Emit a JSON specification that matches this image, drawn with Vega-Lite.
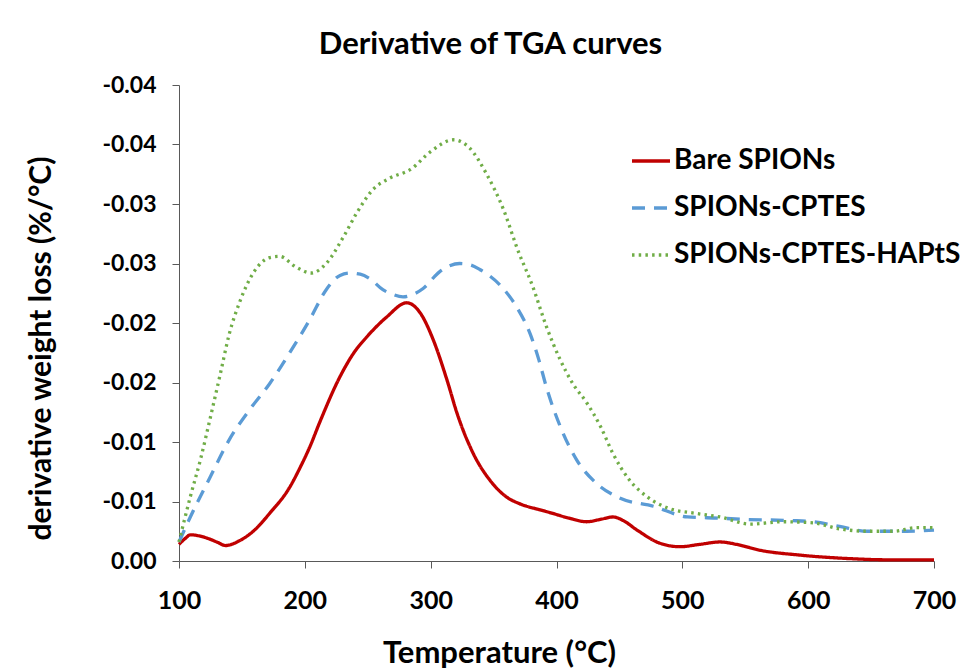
{
  "$schema": "https://vega.github.io/schema/vega-lite/v6.json",
  "width": 755,
  "height": 476,
  "autosize": {"type": "none"},
  "padding": {"left": 179, "top": 85, "right": 32, "bottom": 107},
  "background": "white",
  "config": {"view": {"stroke": null}},
  "title": {
    "text": "Derivative of TGA curves",
    "font": "Lato",
    "fontSize": 31,
    "fontWeight": "bold",
    "color": "black",
    "anchor": "middle",
    "frame": "group",
    "dx": -66,
    "baseline": "alphabetic",
    "offset": -11
  },
  "datasets": {
    "tga": [
      {"series": "Bare SPIONs", "temp": 100, "dw": -0.0014},
      {"series": "Bare SPIONs", "temp": 105, "dw": -0.0019},
      {"series": "Bare SPIONs", "temp": 109, "dw": -0.0022},
      {"series": "Bare SPIONs", "temp": 120, "dw": -0.0020},
      {"series": "Bare SPIONs", "temp": 130, "dw": -0.0016},
      {"series": "Bare SPIONs", "temp": 137, "dw": -0.0013},
      {"series": "Bare SPIONs", "temp": 148, "dw": -0.0017},
      {"series": "Bare SPIONs", "temp": 159, "dw": -0.0025},
      {"series": "Bare SPIONs", "temp": 172, "dw": -0.0040},
      {"series": "Bare SPIONs", "temp": 188, "dw": -0.0062},
      {"series": "Bare SPIONs", "temp": 196, "dw": -0.0078},
      {"series": "Bare SPIONs", "temp": 204, "dw": -0.0096},
      {"series": "Bare SPIONs", "temp": 212, "dw": -0.0117},
      {"series": "Bare SPIONs", "temp": 228, "dw": -0.0155},
      {"series": "Bare SPIONs", "temp": 239, "dw": -0.0175},
      {"series": "Bare SPIONs", "temp": 249, "dw": -0.0188},
      {"series": "Bare SPIONs", "temp": 265, "dw": -0.0205},
      {"series": "Bare SPIONs", "temp": 281, "dw": -0.0217},
      {"series": "Bare SPIONs", "temp": 292, "dw": -0.0208},
      {"series": "Bare SPIONs", "temp": 302, "dw": -0.0186},
      {"series": "Bare SPIONs", "temp": 313, "dw": -0.0152},
      {"series": "Bare SPIONs", "temp": 321, "dw": -0.0124},
      {"series": "Bare SPIONs", "temp": 334, "dw": -0.0090},
      {"series": "Bare SPIONs", "temp": 347, "dw": -0.0068},
      {"series": "Bare SPIONs", "temp": 360, "dw": -0.0054},
      {"series": "Bare SPIONs", "temp": 371, "dw": -0.0048},
      {"series": "Bare SPIONs", "temp": 387, "dw": -0.0043},
      {"series": "Bare SPIONs", "temp": 397, "dw": -0.0040},
      {"series": "Bare SPIONs", "temp": 410, "dw": -0.0036},
      {"series": "Bare SPIONs", "temp": 424, "dw": -0.0033},
      {"series": "Bare SPIONs", "temp": 435, "dw": -0.0035},
      {"series": "Bare SPIONs", "temp": 445, "dw": -0.0037},
      {"series": "Bare SPIONs", "temp": 453, "dw": -0.0034},
      {"series": "Bare SPIONs", "temp": 464, "dw": -0.0026},
      {"series": "Bare SPIONs", "temp": 482, "dw": -0.0015},
      {"series": "Bare SPIONs", "temp": 498, "dw": -0.0012},
      {"series": "Bare SPIONs", "temp": 514, "dw": -0.0014},
      {"series": "Bare SPIONs", "temp": 530, "dw": -0.0016},
      {"series": "Bare SPIONs", "temp": 543, "dw": -0.0014},
      {"series": "Bare SPIONs", "temp": 562, "dw": -0.0009},
      {"series": "Bare SPIONs", "temp": 593, "dw": -0.0005},
      {"series": "Bare SPIONs", "temp": 633, "dw": -0.0002},
      {"series": "Bare SPIONs", "temp": 663, "dw": -0.0001},
      {"series": "Bare SPIONs", "temp": 700, "dw": -0.0001},

      {"series": "SPIONs-CPTES", "temp": 100, "dw": -0.0016},
      {"series": "SPIONs-CPTES", "temp": 109, "dw": -0.0037},
      {"series": "SPIONs-CPTES", "temp": 125, "dw": -0.0071},
      {"series": "SPIONs-CPTES", "temp": 140, "dw": -0.0102},
      {"series": "SPIONs-CPTES", "temp": 156, "dw": -0.0127},
      {"series": "SPIONs-CPTES", "temp": 172, "dw": -0.0149},
      {"series": "SPIONs-CPTES", "temp": 188, "dw": -0.0175},
      {"series": "SPIONs-CPTES", "temp": 204, "dw": -0.0203},
      {"series": "SPIONs-CPTES", "temp": 217, "dw": -0.0228},
      {"series": "SPIONs-CPTES", "temp": 228, "dw": -0.0240},
      {"series": "SPIONs-CPTES", "temp": 236, "dw": -0.0242},
      {"series": "SPIONs-CPTES", "temp": 244, "dw": -0.0241},
      {"series": "SPIONs-CPTES", "temp": 252, "dw": -0.0237},
      {"series": "SPIONs-CPTES", "temp": 262, "dw": -0.0228},
      {"series": "SPIONs-CPTES", "temp": 270, "dw": -0.0224},
      {"series": "SPIONs-CPTES", "temp": 278, "dw": -0.0222},
      {"series": "SPIONs-CPTES", "temp": 286, "dw": -0.0224},
      {"series": "SPIONs-CPTES", "temp": 294, "dw": -0.0229},
      {"series": "SPIONs-CPTES", "temp": 307, "dw": -0.0243},
      {"series": "SPIONs-CPTES", "temp": 315, "dw": -0.0248},
      {"series": "SPIONs-CPTES", "temp": 323, "dw": -0.0250},
      {"series": "SPIONs-CPTES", "temp": 331, "dw": -0.0249},
      {"series": "SPIONs-CPTES", "temp": 339, "dw": -0.0245},
      {"series": "SPIONs-CPTES", "temp": 355, "dw": -0.0232},
      {"series": "SPIONs-CPTES", "temp": 368, "dw": -0.0214},
      {"series": "SPIONs-CPTES", "temp": 379, "dw": -0.0191},
      {"series": "SPIONs-CPTES", "temp": 386, "dw": -0.0169},
      {"series": "SPIONs-CPTES", "temp": 392, "dw": -0.0146},
      {"series": "SPIONs-CPTES", "temp": 403, "dw": -0.0113},
      {"series": "SPIONs-CPTES", "temp": 416, "dw": -0.0085},
      {"series": "SPIONs-CPTES", "temp": 432, "dw": -0.0065},
      {"series": "SPIONs-CPTES", "temp": 450, "dw": -0.0053},
      {"series": "SPIONs-CPTES", "temp": 477, "dw": -0.0046},
      {"series": "SPIONs-CPTES", "temp": 504, "dw": -0.0037},
      {"series": "SPIONs-CPTES", "temp": 530, "dw": -0.0036},
      {"series": "SPIONs-CPTES", "temp": 548, "dw": -0.0035},
      {"series": "SPIONs-CPTES", "temp": 586, "dw": -0.0034},
      {"series": "SPIONs-CPTES", "temp": 604, "dw": -0.0033},
      {"series": "SPIONs-CPTES", "temp": 625, "dw": -0.0029},
      {"series": "SPIONs-CPTES", "temp": 647, "dw": -0.0025},
      {"series": "SPIONs-CPTES", "temp": 663, "dw": -0.0025},
      {"series": "SPIONs-CPTES", "temp": 678, "dw": -0.0025},
      {"series": "SPIONs-CPTES", "temp": 700, "dw": -0.0026},

      {"series": "SPIONs-CPTES-HAPtS", "temp": 100, "dw": -0.0016},
      {"series": "SPIONs-CPTES-HAPtS", "temp": 109, "dw": -0.0054},
      {"series": "SPIONs-CPTES-HAPtS", "temp": 117, "dw": -0.0085},
      {"series": "SPIONs-CPTES-HAPtS", "temp": 125, "dw": -0.0121},
      {"series": "SPIONs-CPTES-HAPtS", "temp": 133, "dw": -0.0158},
      {"series": "SPIONs-CPTES-HAPtS", "temp": 140, "dw": -0.0191},
      {"series": "SPIONs-CPTES-HAPtS", "temp": 148, "dw": -0.0217},
      {"series": "SPIONs-CPTES-HAPtS", "temp": 159, "dw": -0.0242},
      {"series": "SPIONs-CPTES-HAPtS", "temp": 172, "dw": -0.0255},
      {"series": "SPIONs-CPTES-HAPtS", "temp": 180, "dw": -0.0256},
      {"series": "SPIONs-CPTES-HAPtS", "temp": 193, "dw": -0.0247},
      {"series": "SPIONs-CPTES-HAPtS", "temp": 205, "dw": -0.0242},
      {"series": "SPIONs-CPTES-HAPtS", "temp": 217, "dw": -0.0250},
      {"series": "SPIONs-CPTES-HAPtS", "temp": 231, "dw": -0.0273},
      {"series": "SPIONs-CPTES-HAPtS", "temp": 241, "dw": -0.0292},
      {"series": "SPIONs-CPTES-HAPtS", "temp": 254, "dw": -0.0312},
      {"series": "SPIONs-CPTES-HAPtS", "temp": 268, "dw": -0.0322},
      {"series": "SPIONs-CPTES-HAPtS", "temp": 284, "dw": -0.0329},
      {"series": "SPIONs-CPTES-HAPtS", "temp": 300, "dw": -0.0344},
      {"series": "SPIONs-CPTES-HAPtS", "temp": 318, "dw": -0.0354},
      {"series": "SPIONs-CPTES-HAPtS", "temp": 331, "dw": -0.0347},
      {"series": "SPIONs-CPTES-HAPtS", "temp": 344, "dw": -0.0326},
      {"series": "SPIONs-CPTES-HAPtS", "temp": 358, "dw": -0.0295},
      {"series": "SPIONs-CPTES-HAPtS", "temp": 369, "dw": -0.0262},
      {"series": "SPIONs-CPTES-HAPtS", "temp": 381, "dw": -0.0231},
      {"series": "SPIONs-CPTES-HAPtS", "temp": 392, "dw": -0.0197},
      {"series": "SPIONs-CPTES-HAPtS", "temp": 403, "dw": -0.0169},
      {"series": "SPIONs-CPTES-HAPtS", "temp": 413, "dw": -0.0149},
      {"series": "SPIONs-CPTES-HAPtS", "temp": 424, "dw": -0.0133},
      {"series": "SPIONs-CPTES-HAPtS", "temp": 435, "dw": -0.0113},
      {"series": "SPIONs-CPTES-HAPtS", "temp": 445, "dw": -0.0090},
      {"series": "SPIONs-CPTES-HAPtS", "temp": 458, "dw": -0.0068},
      {"series": "SPIONs-CPTES-HAPtS", "temp": 472, "dw": -0.0054},
      {"series": "SPIONs-CPTES-HAPtS", "temp": 490, "dw": -0.0044},
      {"series": "SPIONs-CPTES-HAPtS", "temp": 511, "dw": -0.0040},
      {"series": "SPIONs-CPTES-HAPtS", "temp": 530, "dw": -0.0037},
      {"series": "SPIONs-CPTES-HAPtS", "temp": 554, "dw": -0.0031},
      {"series": "SPIONs-CPTES-HAPtS", "temp": 580, "dw": -0.0033},
      {"series": "SPIONs-CPTES-HAPtS", "temp": 604, "dw": -0.0032},
      {"series": "SPIONs-CPTES-HAPtS", "temp": 625, "dw": -0.0027},
      {"series": "SPIONs-CPTES-HAPtS", "temp": 647, "dw": -0.0025},
      {"series": "SPIONs-CPTES-HAPtS", "temp": 668, "dw": -0.0025},
      {"series": "SPIONs-CPTES-HAPtS", "temp": 686, "dw": -0.0028},
      {"series": "SPIONs-CPTES-HAPtS", "temp": 700, "dw": -0.0028}
    ]
  },
  "data": {"name": "tga"},
  "mark": {"type": "line", "interpolate": "monotone", "strokeWidth": 3.3},
  "encoding": {
    "x": {
      "field": "temp",
      "type": "quantitative",
      "scale": {"domain": [100, 700], "nice": false, "zero": false},
      "axis": {
        "values": [100, 200, 300, 400, 500, 600, 700],
        "format": "d",
        "grid": false,
        "tickSize": 7,
        "tickColor": "#595959",
        "domainColor": "#595959",
        "labelFont": "Lato",
        "labelFontSize": 25,
        "labelFontWeight": "bold",
        "labelColor": "black",
        "labelBaseline": "alphabetic",
        "labelPadding": 40,
        "labelFlush": false,
        "title": "Temperature (°C)",
        "titleFont": "Lato",
        "titleFontSize": 31,
        "titleFontWeight": "bold",
        "titleColor": "black",
        "titleX": 320,
        "titleY": 101,
        "titleAlign": "center",
        "titleBaseline": "alphabetic"
      }
    },
    "y": {
      "field": "dw",
      "type": "quantitative",
      "scale": {"domain": [0, -0.04], "nice": false, "zero": false},
      "axis": {
        "values": [0, -0.005, -0.01, -0.015, -0.02, -0.025, -0.03, -0.035, -0.04],
        "labelExpr": "datum.value == 0 ? '0.00' : '-' + format(-datum.value + 1e-9, '.2f')",
        "grid": false,
        "tickSize": 7,
        "tickColor": "#595959",
        "domainColor": "#595959",
        "labelFont": "Lato",
        "labelFontSize": 23,
        "labelFontWeight": "bold",
        "labelColor": "black",
        "labelPadding": 16,
        "labelFlush": false,
        "title": "derivative weight loss (%/°C)",
        "titleFont": "Lato",
        "titleFontSize": 30,
        "titleFontWeight": "bold",
        "titleColor": "black",
        "titleAngle": -90,
        "titleX": -138,
        "titleY": 263,
        "titleAlign": "center",
        "titleBaseline": "middle"
      }
    },
    "color": {
      "field": "series",
      "type": "nominal",
      "scale": {
        "domain": ["Bare SPIONs", "SPIONs-CPTES", "SPIONs-CPTES-HAPtS"],
        "range": ["#C00000", "#5B9BD5", "#70AD47"]
      },
      "legend": {
        "title": null,
        "orient": "none",
        "legendX": 451,
        "legendY": 55,
        "symbolType": "stroke",
        "symbolSize": 1444,
        "symbolStrokeWidth": 3.3,
        "labelFont": "Lato",
        "labelFontSize": 28,
        "labelFontWeight": "bold",
        "labelColor": "black",
        "labelOffset": 2,
        "rowPadding": 12,
        "labelLimit": 400
      }
    },
    "strokeDash": {
      "field": "series",
      "type": "nominal",
      "scale": {
        "domain": ["Bare SPIONs", "SPIONs-CPTES", "SPIONs-CPTES-HAPtS"],
        "range": [[1, 0], [13, 9], [2.5, 4.2]]
      },
      "legend": {
        "title": null,
        "orient": "none",
        "legendX": 451,
        "legendY": 55,
        "symbolType": "stroke",
        "symbolSize": 1444,
        "symbolStrokeWidth": 3.3,
        "labelFont": "Lato",
        "labelFontSize": 28,
        "labelFontWeight": "bold",
        "labelColor": "black",
        "labelOffset": 2,
        "rowPadding": 12,
        "labelLimit": 400
      }
    }
  }
}
